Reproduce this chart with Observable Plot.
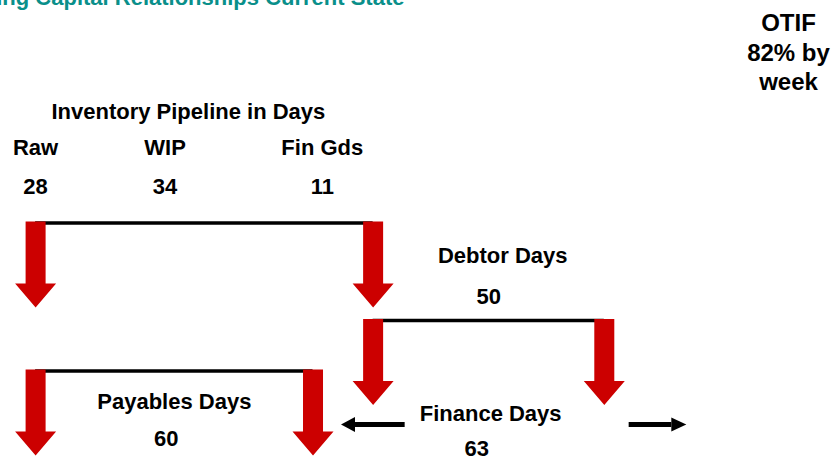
<!DOCTYPE html>
<html>
<head>
<meta charset="utf-8">
<script src="https://cdn.jsdelivr.net/npm/d3@7"></script>
<script src="https://cdn.jsdelivr.net/npm/@observablehq/plot@0.6"></script>
<style>
  html, body { margin: 0; padding: 0; background: #fff; overflow: hidden; }
  #chart svg { display: block; }
</style>
</head>
<body>
<div id="chart"></div>
<script>
// ---- data ----
const title = "Working Capital Relationships Current State";
const otifLines = ["OTIF", "82% by", "week"];
const stages = ["Raw", "WIP", "Fin Gds"];
const stageDays = [28, 34, 11];
const flows = ["Inventory", "Debtor", "Payables", "Finance"];
const flowLabels = ["Inventory Pipeline in Days", "Debtor Days", "Payables Days", "Finance Days"];
const debtorDays = 50;
const payablesDays = 60;
const financeDays = 63;

// ---- derived timeline (days) ----
const inventoryDays = d3.sum(stageDays);
const stageStarts = [0, ...d3.cumsum(stageDays).slice(0, -1)];
const stageRows = stages.map((s, i) => ({stage: s, days: stageDays[i], start: stageStarts[i], row: 0}));
const spans = [
  {flow: flows[0], label: flowLabels[0], value: inventoryDays, start: 0, end: inventoryDays},
  {flow: flows[1], label: flowLabels[1], value: debtorDays, start: inventoryDays, end: inventoryDays + debtorDays},
  {flow: flows[2], label: flowLabels[2], value: payablesDays, start: 0, end: payablesDays},
  {flow: flows[3], label: flowLabels[3], value: financeDays, start: payablesDays, end: payablesDays + financeDays}
].map((d, i) => ({...d, row: i, mid: (d.start + d.end) / 2}));
const byFlow = f => spans.filter(d => d.flow === f);
const arrowEnds = f => byFlow(f).flatMap(d => [{day: d.start, row: d.row}, {day: d.end, row: d.row}]);

// ---- layout / styles ----
const RED = "#cc0000";
const rowShift = {Inventory: 0, Debtor: 30.3, Payables: 13.7, Finance: 0};
const blockArrow = {draw(ctx) {
  const w = 10, hw = 20.5, L = 86, hl = 24;
  ctx.moveTo(-w, 0); ctx.lineTo(w, 0); ctx.lineTo(w, L - hl); ctx.lineTo(hw, L - hl);
  ctx.lineTo(0, L); ctx.lineTo(-hw, L - hl); ctx.lineTo(-w, L - hl); ctx.closePath();
}};
const headLeft = {draw(ctx) { ctx.moveTo(0, 0); ctx.lineTo(14, -7.5); ctx.lineTo(14, 7.5); ctx.closePath(); }};
const headRight = {draw(ctx) { ctx.moveTo(0, 0); ctx.lineTo(-15, -7); ctx.lineTo(-15, 7); ctx.closePath(); }};
const txt = {fontSize: 22, fontWeight: "bold", fill: "#000", lineAnchor: "bottom", textAnchor: "middle", y: "row"};

const spanMarks = ["Inventory", "Debtor", "Payables"].flatMap(f => [
  Plot.ruleY(byFlow(f), {x1: "start", x2: "end", y: "row", dy: rowShift[f], stroke: "#000", strokeWidth: 3.5}),
  Plot.dot(arrowEnds(f), {x: "day", y: "row", dy: rowShift[f] - 1.5, symbol: blockArrow, r: 5, fill: RED, stroke: "none"})
]);

const finance = byFlow("Finance");

const chart = Plot.plot({
  width: 832,
  height: 461,
  margin: 0,
  style: {fontFamily: "'Liberation Sans', Arial, Helvetica, sans-serif", background: "#fff"},
  x: {axis: null, domain: [0, inventoryDays + debtorDays], range: [35.1, 603.8]},
  y: {axis: null, domain: [0, flows.length - 1], range: [222.5, 424]},
  marks: [
    // title (cropped at the top-left, as in the reference)
    Plot.text([title], {frameAnchor: "top-left", textAnchor: "end", lineAnchor: "bottom", dx: 404, dy: 4,
      fontSize: 22, fontWeight: "bold", fill: "#0a8f8a"}),
    // OTIF note
    Plot.text([otifLines.join("\n")], {frameAnchor: "top-right", textAnchor: "middle", lineAnchor: "top",
      dx: -44, dy: 9.7, lineHeight: 1.23, fontSize: 24, fontWeight: "bold", fill: "#000"}),
    // connector lines and red block arrows
    ...spanMarks,
    // finance arrows
    Plot.arrow(finance, {x1: "mid", x2: "start", y: "row", insetStart: 54, insetEnd: 42, headLength: 0,
      stroke: "#000", strokeWidth: 5, strokeLinecap: "butt"}),
    Plot.arrow(finance, {x1: "mid", x2: "end", y: "row", insetStart: 170, insetEnd: -67, headLength: 0,
      stroke: "#000", strokeWidth: 5, strokeLinecap: "butt"}),
    Plot.dot(finance, {x: "start", y: "row", symbol: headLeft, r: 5, fill: "#000", stroke: "none", dx: 28}),
    Plot.dot(finance, {x: "end", y: "row", symbol: headRight, r: 5, fill: "#000", stroke: "none", dx: 82}),
    // inventory pipeline labels
    Plot.text(byFlow("Inventory"), {...txt, x: "mid", text: "label", dx: -16, dy: -104}),
    Plot.text(stageRows, {...txt, x: "start", text: "stage", dy: -68}),
    Plot.text(stageRows, {...txt, x: "start", text: d => String(d.days), dy: -29}),
    // debtor
    Plot.text(byFlow("Debtor"), {...txt, x: "mid", text: "label", dx: 14, dy: rowShift.Debtor - 57}),
    Plot.text(byFlow("Debtor"), {...txt, x: "mid", text: d => String(d.value), dy: rowShift.Debtor - 16}),
    // payables
    Plot.text(byFlow("Payables"), {...txt, x: "mid", text: "label", dy: rowShift.Payables + 37.5}),
    Plot.text(byFlow("Payables"), {...txt, x: "mid", text: d => String(d.value), dx: -8, dy: rowShift.Payables + 74.5}),
    // finance
    Plot.text(finance, {...txt, x: "mid", text: "label", dx: 32, dy: -3.5}),
    Plot.text(finance, {...txt, x: "mid", text: d => String(d.value), dx: 18, dy: 31.5})
  ]
});
document.getElementById("chart").appendChild(chart);
</script>
</body>
</html>
